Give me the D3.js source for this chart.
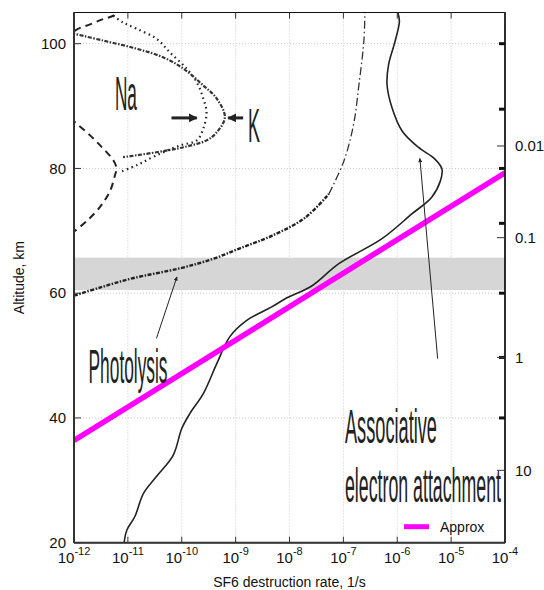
<!DOCTYPE html>
<meta charset="utf-8">
<style>
body { margin: 0; background: #fff; }
text { font-family: "Liberation Sans", Arial, sans-serif; }
.big { fill: #222; font-size: 48px; }
</style>
<body>
<svg width="544" height="590"></svg>
<script src="https://cdn.jsdelivr.net/npm/d3@7"></script>
<script>
// log10 of rate (1/s), altitude (km)
var rateTicks = [-12, -11, -10, -9, -8, -7, -6, -5, -4];
var altTicks = [20, 40, 60, 80, 100];
var pressureLabels = ["0.01", "0.1", "1", "10"];
var pressureAlt = [83.6, 68.9, 49.7, 31.6];
var sideMarkAlt = [100, 89.5, 80, 71.2, 60, 49.7, 40];
var band = [60.5, 65.7];

var approx = [[-12, 36.4], [-4, 79.3]];

var attachment = [[-11.07, 20], [-11.02, 22.0], [-10.87, 24.2], [-10.71, 27.9], [-10.47, 30.6],
  [-10.16, 34.0], [-10.0, 38.3], [-9.85, 40.7], [-9.6, 43.9], [-9.35, 48.7], [-9.11, 53.0],
  [-8.8, 55.6], [-8.33, 57.8], [-8.08, 59.1], [-7.58, 61.2], [-7.09, 64.7], [-6.29, 68.7],
  [-5.73, 72.7], [-5.36, 75.4], [-5.2, 78.0], [-5.17, 79.9], [-5.3, 81.5], [-5.61, 83.4],
  [-5.91, 86.0], [-6.1, 89.8], [-6.19, 93.5], [-6.16, 96.7], [-6.04, 100.4], [-5.96, 103.6],
  [-5.99, 105]];

var photoLow = [[-12, 59.6], [-11.52, 60.9], [-10.91, 62.4], [-10.03, 64.0], [-9.42, 65.5],
  [-8.92, 67.2], [-8.33, 69.2], [-7.71, 72.1], [-7.27, 75.9]];
var photoHigh = [[-7.27, 75.9], [-6.99, 81.2], [-6.81, 87.1], [-6.71, 93.5], [-6.62, 100.4],
  [-6.6, 105]];

var naDashed = [[-11.1, 106], [-11.27, 104.5], [-11.46, 103.95], [-11.7, 103.1], [-11.98, 102.1],
  [-12.3, 99], [-12.4, 92], [-12.2, 89], [-11.98, 87.4], [-11.7, 85.3], [-11.46, 83.2],
  [-11.27, 81.3], [-11.21, 80.0], [-11.24, 78.9], [-11.33, 76.4], [-11.52, 73.8],
  [-11.76, 71.6], [-11.98, 70.0], [-12.1, 69.2]];

var naDotted = [[-11.27, 104.5], [-11.09, 103.4], [-10.84, 102.4], [-10.47, 100.8], [-10.22, 98.6],
  [-9.91, 96.0], [-9.72, 93.8], [-9.6, 91.2], [-9.54, 89.0], [-9.6, 86.4], [-9.72, 84.5],
  [-10.03, 83.7], [-10.47, 82.1], [-10.84, 80.5], [-11.15, 79.4]];

var kDashDot = [[-12.05, 101.7], [-11.46, 100.5], [-10.84, 99.2], [-10.34, 97.8], [-9.97, 96.0],
  [-9.6, 93.3], [-9.35, 91.2], [-9.2, 88.2], [-9.35, 85.8], [-9.54, 84.5], [-9.97, 83.4],
  [-10.47, 82.6], [-11.09, 81.8]];

// annotations: [text, rate, alt, length px]
var labels = [["Na", -11.24, 89.3, 22], ["K", -8.77, 84.2, 12], ["Photolysis", -11.73, 45.6, 79],
  ["Associative", -6.97, 36.0, 92], ["electron attachment", -6.97, 26.6, 156]];
var thickArrows = [[-10.19, 88.1, -9.72, 88.1], [-8.86, 88.1, -9.14, 88.1]];
var thinArrows = [[-10.47, 52.75, -10.09, 62.6], [-5.25, 49.5, -5.58, 81.6]];

var svg = d3.select("svg"),
    margin = {top: 12.5, right: 39, bottom: 47.3, left: 74},
    width = +svg.attr("width") - margin.left - margin.right,
    height = +svg.attr("height") - margin.top - margin.bottom,
    g = svg.append("g").attr("transform", "translate(" + margin.left + "," + margin.top + ")");

var x = d3.scaleLinear().domain([-12, -4]).range([0, width]);
var y = d3.scaleLinear().domain([20, 105]).range([height, 0]);

var line = d3.line().x(function(d) { return x(d[0]); }).y(function(d) { return y(d[1]); })
    .curve(d3.curveCatmullRom);

var defs = svg.append("defs");
defs.append("clipPath").attr("id", "clip")
  .append("rect").attr("width", width).attr("height", height);
defs.append("marker").attr("id", "headThick").attr("viewBox", "0 0 10 10")
    .attr("refX", 9).attr("refY", 5).attr("markerWidth", 3).attr("markerHeight", 3.2)
    .attr("orient", "auto").attr("markerUnits", "strokeWidth")
  .append("path").attr("d", "M0,0L10,5L0,10z").attr("fill", "#222");
defs.append("marker").attr("id", "headThin").attr("viewBox", "0 0 10 10")
    .attr("refX", 9).attr("refY", 5).attr("markerWidth", 9).attr("markerHeight", 4)
    .attr("orient", "auto").attr("markerUnits", "strokeWidth")
  .append("path").attr("d", "M0,0L10,5L0,10z").attr("fill", "#222");

// grid
g.append("g").selectAll("line").data(rateTicks.slice(1, -1)).enter().append("line")
    .attr("x1", x).attr("x2", x).attr("y1", 0).attr("y2", height)
    .attr("stroke", "#c8c8c8").attr("stroke-dasharray", "1,2");
g.append("g").selectAll("line").data(altTicks.slice(1)).enter().append("line")
    .attr("x1", 0).attr("x2", width).attr("y1", y).attr("y2", y)
    .attr("stroke", "#c8c8c8").attr("stroke-dasharray", "1,2");

// shaded band
g.append("rect").attr("x", 0).attr("width", width)
    .attr("y", y(band[1])).attr("height", y(band[0]) - y(band[1]))
    .attr("fill", "#d6d6d6");

var curves = g.append("g").attr("clip-path", "url(#clip)").attr("fill", "none");

curves.append("path").datum(naDashed).attr("d", line)
    .attr("stroke", "#222").attr("stroke-width", 2).attr("stroke-dasharray", "7,5");
curves.append("path").datum(naDotted).attr("d", line)
    .attr("stroke", "#222").attr("stroke-width", 2.2).attr("stroke-dasharray", "1.5,3.5");
curves.append("path").datum(kDashDot).attr("d", line)
    .attr("stroke", "#333").attr("stroke-width", 2.2).attr("stroke-dasharray", "4,1.5,1.5,1.5");
curves.append("path").datum(photoLow).attr("d", line)
    .attr("stroke", "#222").attr("stroke-width", 2.4).attr("stroke-dasharray", "4,1.5,1.5,1.5");
curves.append("path").datum(photoHigh).attr("d", line)
    .attr("stroke", "#333").attr("stroke-width", 1.3).attr("stroke-dasharray", "8,3,1.5,3");
curves.append("path").datum(attachment).attr("d", line)
    .attr("stroke", "#222").attr("stroke-width", 1.6);

curves.append("path").datum(approx).attr("d", d3.line().x(function(d) { return x(d[0]); }).y(function(d) { return y(d[1]); }))
    .attr("stroke", "#ff00ff").attr("stroke-width", 5.5);

// arrows
g.append("g").selectAll("line").data(thickArrows).enter().append("line")
    .attr("x1", function(d) { return x(d[0]); }).attr("y1", function(d) { return y(d[1]); })
    .attr("x2", function(d) { return x(d[2]); }).attr("y2", function(d) { return y(d[3]); })
    .attr("stroke", "#222").attr("stroke-width", 3).attr("marker-end", "url(#headThick)");
g.append("g").selectAll("line").data(thinArrows).enter().append("line")
    .attr("x1", function(d) { return x(d[0]); }).attr("y1", function(d) { return y(d[1]); })
    .attr("x2", function(d) { return x(d[2]); }).attr("y2", function(d) { return y(d[3]); })
    .attr("stroke", "#222").attr("stroke-width", 1).attr("marker-end", "url(#headThin)");

// big labels, squeezed horizontally
g.append("g").selectAll("text").data(labels).enter().append("text")
    .attr("class", "big")
    .text(function(d) { return d[0]; })
    .attr("transform", function(d) {
      var k = d[3] / this.getComputedTextLength();
      return "translate(" + x(d[1]) + "," + y(d[2]) + ") scale(" + k + ",1)";
    });

// frame
g.append("rect").attr("width", width).attr("height", height)
    .attr("fill", "none").attr("stroke", "#111").attr("stroke-width", 1);
g.append("line").attr("x1", 0).attr("x2", 0).attr("y1", 0).attr("y2", height)
    .attr("stroke", "#333").attr("stroke-width", 2);
g.append("line").attr("x1", 0).attr("x2", width).attr("y1", height).attr("y2", height)
    .attr("stroke", "#333").attr("stroke-width", 2);
g.append("line").attr("x1", width).attr("x2", width).attr("y1", 0).attr("y2", height)
    .attr("stroke", "#111").attr("stroke-width", 1.5);

// x axis ticks + labels
var xt = g.append("g").selectAll("g").data(rateTicks).enter().append("g")
    .attr("transform", function(d) { return "translate(" + x(d) + ",0)"; });
xt.append("line").attr("y1", height).attr("y2", height - 6).attr("stroke", "#333");
xt.append("line").attr("y1", 0).attr("y2", 6).attr("stroke", "#333");
var xl = xt.append("text").attr("y", height + 20.5).attr("text-anchor", "middle")
    .attr("font-size", 15).attr("fill", "#111");
xl.append("tspan").text("10");
xl.append("tspan").attr("dy", -8).attr("font-size", 11).text(function(d) { return d; });

// y axis ticks + labels
var yt = g.append("g").selectAll("g").data(altTicks).enter().append("g")
    .attr("transform", function(d) { return "translate(0," + y(d) + ")"; });
yt.append("line").attr("x1", 0).attr("x2", 7).attr("stroke", "#333");
yt.append("text").attr("x", -8).attr("dy", "0.35em").attr("text-anchor", "end")
    .attr("font-size", 15).attr("fill", "#111").text(function(d) { return d; });

// right side marks
g.append("g").selectAll("line").data(sideMarkAlt).enter().append("line")
    .attr("x1", width - 6).attr("x2", width).attr("y1", y).attr("y2", y)
    .attr("stroke", "#111").attr("stroke-width", 3);

var pt = g.append("g").selectAll("g").data(pressureLabels).enter().append("g")
    .attr("transform", function(d, i) { return "translate(" + width + "," + y(pressureAlt[i]) + ")"; });
pt.append("line").attr("x1", -8).attr("x2", 0).attr("stroke", "#333");
pt.append("text").attr("x", 10).attr("dy", "0.35em").attr("font-size", 15).attr("fill", "#111")
    .text(function(d) { return d; });

// axis titles
svg.append("text").attr("x", margin.left + width / 2).attr("y", 587)
    .attr("text-anchor", "middle").attr("font-size", 14).attr("fill", "#111")
    .text("SF6 destruction rate, 1/s");
svg.append("text").attr("transform", "translate(24," + (margin.top + height / 2) + ") rotate(-90)")
    .attr("text-anchor", "middle").attr("font-size", 14).attr("fill", "#111")
    .text("Altitude, km");

// legend
var legend = g.append("g").attr("transform", "translate(" + (width - 101) + "," + (height - 16) + ")");
legend.append("line").attr("x1", 0).attr("x2", 25).attr("stroke", "#ff00ff").attr("stroke-width", 5);
legend.append("text").attr("x", 36).attr("dy", "0.35em").attr("font-size", 14).attr("fill", "#111")
    .text("Approx");
</script>
</body>
